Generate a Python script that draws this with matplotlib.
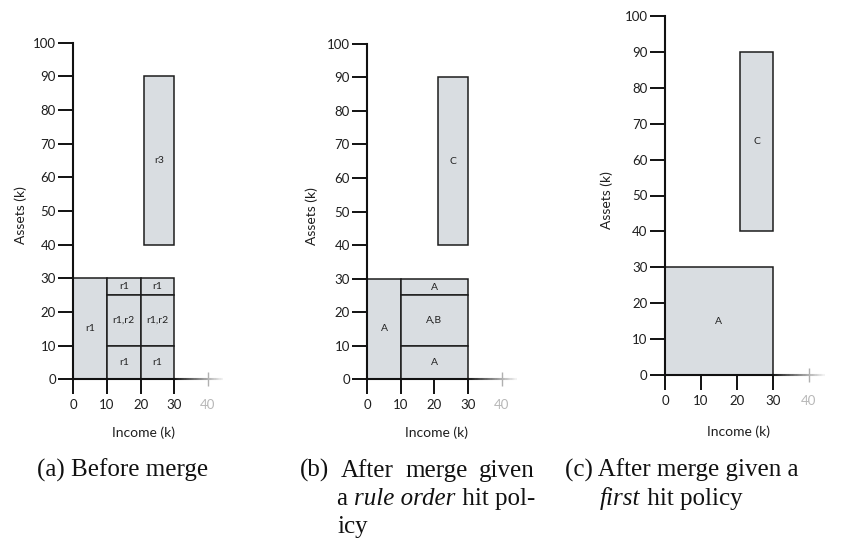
import numpy as np
import matplotlib.pyplot as plt
from matplotlib.patches import Rectangle
from matplotlib.collections import LineCollection

# regions: (income from, income to, assets from, assets to, label)
before_merge = [
    (0, 10, 0, 30, "r1"),
    (10, 20, 25, 30, "r1"),
    (20, 30, 25, 30, "r1"),
    (10, 20, 10, 25, "r1,r2"),
    (20, 30, 10, 25, "r1,r2"),
    (10, 20, 0, 10, "r1"),
    (20, 30, 0, 10, "r1"),
    (21, 30, 40, 90, "r3"),
]
rule_order = [
    (0, 10, 0, 30, "A"),
    (10, 30, 25, 30, "A"),
    (10, 30, 10, 25, "A,B"),
    (10, 30, 0, 10, "A"),
    (21, 30, 40, 90, "C"),
]
first_hit = [
    (0, 30, 0, 30, "A"),
    (21, 30, 40, 90, "C"),
]
x_ticks = [0, 10, 20, 30, 40]
y_ticks = [0, 10, 20, 30, 40, 50, 60, 70, 80, 90, 100]

W, H = 846, 545
X_END = 46
FILL = "#d9dde1"
EDGE = "#1c1c1c"
SANS = ["Lato", "DejaVu Sans"]
SERIF = ["Liberation Serif", "DejaVu Serif"]

fig = plt.figure(figsize=(W / 100, H / 100), dpi=100)


def panel(regions, left, base, scale, xlab_pos, ylab_pos):
    ax = fig.add_axes([left / W, (H - base) / H,
                       X_END * scale / W, 100 * scale / H])
    ax.set_xlim(0, X_END)
    ax.set_ylim(0, 100)
    ax.patch.set_alpha(0)

    for x0, x1, y0, y1, lab in regions:
        ax.add_patch(Rectangle((x0, y0), x1 - x0, y1 - y0, facecolor=FILL,
                               edgecolor=EDGE, linewidth=1.1, zorder=1,
                               clip_on=False))
        ax.text((x0 + x1) / 2, (y0 + y1) / 2, lab, ha="center", va="center",
                fontsize=7.5, color="#222222", family=SANS, zorder=3)

    for side in ("top", "right"):
        ax.spines[side].set_visible(False)
    ax.spines["left"].set_bounds(0, 100)
    ax.spines["bottom"].set_bounds(0, 30)
    for side in ("left", "bottom"):
        ax.spines[side].set_linewidth(1.5)
        ax.spines[side].set_color("#111111")
        ax.spines[side].set_zorder(4)

    # axis line fading out past 30
    xs = np.linspace(30, X_END - 1.5, 40)
    segs = [[(xs[i], 0), (xs[i + 1], 0)] for i in range(len(xs) - 1)]
    shades = np.linspace(0.1, 0.95, len(segs))
    fade = LineCollection(segs, colors=[(s, s, s) for s in shades],
                          linewidths=1.5, clip_on=False, zorder=4)
    ax.add_collection(fade)

    ax.set_xticks(x_ticks)
    ax.set_yticks(y_ticks)
    ax.tick_params(direction="out", length=10.5, width=1.4, color="#111111",
                   labelsize=9.5, labelcolor="#1e1e1e", pad=4)
    ax.tick_params(axis="y", pad=2)
    for lab in ax.get_xticklabels() + ax.get_yticklabels():
        lab.set_family(SANS)
    last = ax.xaxis.get_major_ticks()[-1]
    last.tick1line.set_marker("|")
    last.tick1line.set_markeredgecolor("#b0b0b0")
    last.tick1line.set_markeredgewidth(1.0)
    last.label1.set_color("#b8b8b8")

    ax.set_xlabel("Income (k)", fontsize=10, color="#1e1e1e", family=SANS)
    ax.set_ylabel("Assets (k)", fontsize=10, color="#1e1e1e", family=SANS)
    ax.xaxis.set_label_coords(*xlab_pos)
    ax.yaxis.set_label_coords(*ylab_pos)
    ax.xaxis.label.set_va("center")
    ax.yaxis.label.set_va("center")
    return ax


panel(before_merge, 73.3, 379.3, 3.367, (0.451, -0.158), (-0.341, 0.488))
panel(rule_order, 367.3, 379.3, 3.355, (0.449, -0.158), (-0.358, 0.488))
panel(first_hit, 665, 375, 3.59, (0.446, -0.158), (-0.352, 0.486))

fig.canvas.draw()
renderer = fig.canvas.get_renderer()


def put(x, y, txt, style="normal"):
    t = fig.text(x / W, 1 - y / H, txt, fontsize=18, family=SERIF,
                 style=style, va="baseline", ha="left", color="#111111")
    return t.get_window_extent(renderer).width


def caption_line(x, y, runs):
    # pieces of one line written side by side, italics where asked
    for txt, style in runs:
        x += put(x, y, txt, style)


def caption_justified(x, y, line, right):
    # spread the words of a full line out to the right edge
    words = line.split()
    texts = [fig.text(0, 0, w, fontsize=18, family=SERIF) for w in words]
    widths = [t.get_window_extent(renderer).width for t in texts]
    for t in texts:
        t.remove()
    gap = (right - x - sum(widths)) / (len(words) - 1)
    for w, wd in zip(words, widths):
        put(x, y, w)
        x += wd + gap


caption_line(37, 477, [("(a) Before merge", "normal")])
caption_justified(300, 477, "(b) After merge given", 535)
caption_line(337, 505, [("a ", "normal"), ("rule order", "italic"),
                        (" hit pol-", "normal")])
caption_line(337, 533, [("icy", "normal")])
caption_line(565, 477, [("(c) After merge given a", "normal")])
caption_line(600, 505, [("first", "italic"), (" hit policy", "normal")])

fig.savefig("out.png", dpi=100)
